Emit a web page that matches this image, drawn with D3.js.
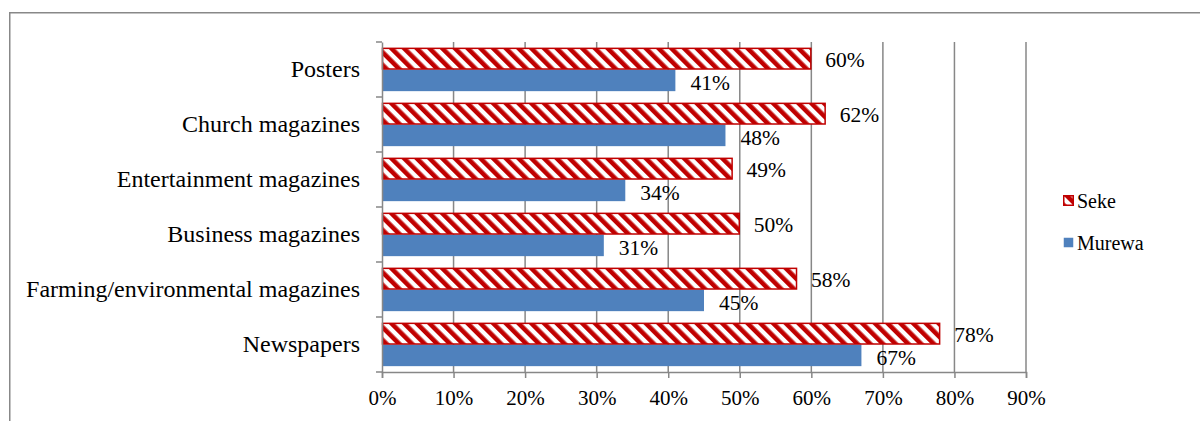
<!DOCTYPE html>
<html>
<head>
<meta charset="utf-8">
<script src="https://cdn.jsdelivr.net/npm/d3@7"></script>
<style>
  html, body { margin: 0; padding: 0; background: #fff; }
  svg { display: block; }
  text { font-family: "Liberation Serif", "Times New Roman", serif; fill: #000; }
</style>
</head>
<body>
<svg id="chart" width="1200" height="421"></svg>
<script>
// Media types, listed top to bottom
const categories = [
  "Posters",
  "Church magazines",
  "Entertainment magazines",
  "Business magazines",
  "Farming/environmental magazines",
  "Newspapers"
];
const seriesNames = ["Seke", "Murewa"];
const sekeValues = [60, 62, 49, 50, 58, 78];
const murewaValues = [41, 48, 34, 31, 45, 67];
const xTicks = [0, 10, 20, 30, 40, 50, 60, 70, 80, 90];

const svg = d3.select("#chart");
const W = 1200, H = 421;

// Outer frame
svg.append("path")
  .attr("d", `M9.75,${H} L9.75,12.75 L${W},12.75`)
  .attr("fill", "none")
  .attr("stroke", "#888")
  .attr("stroke-width", 1.5);

// Diagonal red/white stripes for Seke
const defs = svg.append("defs");
const pat = defs.append("pattern")
  .attr("id", "stripes")
  .attr("patternUnits", "userSpaceOnUse")
  .attr("width", 9)
  .attr("height", 9)
  .attr("patternTransform", "rotate(-45)");
pat.append("rect").attr("width", 9).attr("height", 9).attr("fill", "#fff");
pat.append("rect").attr("width", 4.6).attr("height", 9).attr("fill", "#C00000");

const margin = { left: 382, right: 1026, top: 42, bottom: 372 };

const x = d3.scaleLinear().domain([0, 90]).range([margin.left, margin.right]);
const y = d3.scaleBand().domain(categories).range([margin.top, margin.bottom]).paddingInner(0).paddingOuter(0);
const sub = d3.scaleBand().domain(seriesNames).range([0, y.bandwidth()]).paddingOuter(0.27).paddingInner(0);

// Vertical gridlines
svg.append("g")
  .selectAll("line")
  .data(xTicks.filter(d => d > 0))
  .join("line")
  .attr("x1", d => x(d)).attr("x2", d => x(d))
  .attr("y1", margin.top).attr("y2", margin.bottom)
  .attr("stroke", "#878787")
  .attr("stroke-width", 1.5);

const rows = categories.map((c, i) => ({ cat: c, Seke: sekeValues[i], Murewa: murewaValues[i] }));

const groups = svg.append("g")
  .selectAll("g")
  .data(rows)
  .join("g")
  .attr("transform", d => `translate(0,${y(d.cat)})`);

// Murewa bars
groups.append("rect")
  .attr("x", x(0))
  .attr("y", sub("Murewa"))
  .attr("width", d => x(d.Murewa) - x(0))
  .attr("height", sub.bandwidth())
  .attr("fill", "#4F81BD");

// Seke bars
groups.append("rect")
  .attr("x", x(0) + 0.5)
  .attr("y", d => sub("Seke") + 0.5)
  .attr("width", d => x(d.Seke) - x(0) - 1)
  .attr("height", sub.bandwidth() - 1)
  .attr("fill", "url(#stripes)")
  .attr("stroke", "#C00000")
  .attr("stroke-width", 1.5);

// Value labels
groups.append("text")
  .attr("x", d => x(d.Seke) + 14)
  .attr("y", sub("Seke") + sub.bandwidth() / 2 + 1)
  .attr("dy", "0.35em")
  .attr("font-size", 21.5)
  .text(d => d.Seke + "%");
groups.append("text")
  .attr("x", d => x(d.Murewa) + 15)
  .attr("y", sub("Murewa") + sub.bandwidth() / 2 + 2)
  .attr("dy", "0.35em")
  .attr("font-size", 21.5)
  .text(d => d.Murewa + "%");

// Category axis
const yAxis = svg.append("g")
  .attr("transform", `translate(${margin.left},0)`)
  .call(d3.axisLeft(y).tickSize(0).tickPadding(22));
yAxis.select(".domain").attr("stroke", "#878787").attr("stroke-width", 1.5);
yAxis.selectAll("text").attr("font-size", 24).attr("font-family", "Liberation Serif, serif");
// tick marks on category boundaries
svg.append("g")
  .selectAll("line")
  .data(d3.range(categories.length + 1))
  .join("line")
  .attr("x1", margin.left - 6).attr("x2", margin.left)
  .attr("y1", i => margin.top + i * y.step())
  .attr("y2", i => margin.top + i * y.step())
  .attr("stroke", "#878787")
  .attr("stroke-width", 1.5);

// Value axis
const xAxis = svg.append("g")
  .attr("transform", `translate(0,${margin.bottom})`)
  .call(d3.axisBottom(x).tickValues(xTicks).tickSize(6).tickPadding(12).tickFormat(d => d + "%"));
xAxis.select(".domain").attr("stroke", "#878787").attr("stroke-width", 1.5);
xAxis.selectAll(".tick line").attr("stroke", "#878787").attr("stroke-width", 1.5);
xAxis.selectAll("text").attr("font-size", 21).attr("font-family", "Liberation Serif, serif");

// Legend
const legend = svg.append("g").attr("transform", "translate(1063,195)");
const legendItems = [
  { name: "Seke", fill: "url(#stripes)", stroke: "#C00000" },
  { name: "Murewa", fill: "#4F81BD", stroke: "none" }
];
const li = legend.selectAll("g")
  .data(legendItems)
  .join("g")
  .attr("transform", (d, i) => `translate(0,${i * 42})`);
li.append("rect")
  .attr("x", 0.75).attr("y", 0.75)
  .attr("width", 9.5).attr("height", 9.5)
  .attr("fill", d => d.fill)
  .attr("stroke", d => d.stroke)
  .attr("stroke-width", 1.5);
li.append("text")
  .attr("x", 14)
  .attr("y", 5.5)
  .attr("dy", "0.35em")
  .attr("font-size", 20)
  .text(d => d.name);
</script>
</body>
</html>
